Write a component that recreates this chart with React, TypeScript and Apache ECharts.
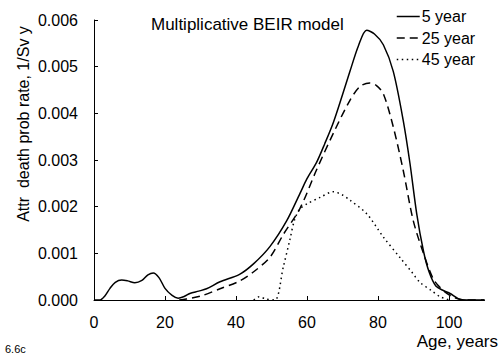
import React, { useEffect, useRef } from "react";
import * as echarts from "echarts";

const FONT = "'Liberation Sans', Arial, Helvetica, sans-serif";

const TITLE = "Multiplicative BEIR model";
const Y_NAME = "Attr  death prob rate, 1/Sv y";
const X_NAME = "Age, years";
const CORNER_NOTE = "6.6c";
const SERIES_NAMES = ["5 year", "25 year", "45 year"];

const AGE_5 = [0, 1.7, 3, 4.5, 6, 7.8, 9.5, 11.5, 13.5, 15.2, 16.7, 18.3, 20, 22, 23.7, 25.5, 27, 29.5, 31.7, 35.5, 41, 45, 49.6, 54.3, 58, 60, 62.7, 65, 67.4, 70, 72.1, 74.5, 76.8, 79, 81.5, 84.3, 87.1, 89, 90.9, 92.8, 94.4, 96.3, 98.5, 100.3, 102.6, 105, 110];
const VAL_5 = [0, 0, 0.00008, 0.00025, 0.00038, 0.00043, 0.00041, 0.00037, 0.00042, 0.00054, 0.00058, 0.00048, 0.00025, 0.0001, 0.00004, 0.00008, 0.00014, 0.00019, 0.00024, 0.00039, 0.00055, 0.00078, 0.00115, 0.0017, 0.00228, 0.0026, 0.00295, 0.00335, 0.0038, 0.0044, 0.0049, 0.00545, 0.00578, 0.0057, 0.00547, 0.0049, 0.00385, 0.00293, 0.00185, 0.00105, 0.0006, 0.0003, 0.0002, 0.00014, 0.00003, 0, 0];

const AGE_25 = [24, 26, 29.9, 35.5, 41.1, 44.9, 49.6, 53.3, 58, 62.7, 67.4, 72.1, 75, 77.7, 79.5, 81.5, 84.3, 87.1, 89.9, 92.8, 95.6, 98.4, 101, 104, 110];
const VAL_25 = [0, 0.00002, 0.00008, 0.00024, 0.00041, 0.0006, 0.00092, 0.0014, 0.00196, 0.00279, 0.00357, 0.00428, 0.00458, 0.00465, 0.0046, 0.00442, 0.00371, 0.00278, 0.00171, 0.001, 0.00045, 0.0002, 0.00007, 0, 0];

const AGE_45 = [45, 46.5, 48.5, 51, 53.3, 55.2, 56.5, 58, 60, 63.7, 67.4, 70, 72.1, 76.8, 81.5, 86.5, 89.5, 91.8, 95.1, 97.5, 100];
const VAL_45 = [0, 0.00007, 0.00002, 0, 0.0007, 0.0013, 0.00172, 0.00195, 0.00206, 0.0022, 0.00232, 0.00225, 0.00214, 0.00185, 0.00135, 0.00088, 0.0006, 0.00038, 0.0002, 0.00007, 0];

const zip = (a: number[], b: number[]) => a.map((x, i) => [x, b[i]]);

export default function App() {
  const ref = useRef<HTMLDivElement>(null);
  useEffect(() => {
    document.body.style.margin = "0";
    const chart = echarts.init(ref.current!, null, { renderer: "svg" });
    const lineBase = (name: string, data: number[][], type: any) => ({
      name,
      type: "line",
      data,
      symbol: "none",
      showSymbol: false,
      smooth: 0.3,
      lineStyle: { color: "#000", width: 1.5, type },
      itemStyle: { color: "#000" },
    });
    chart.setOption({
      animation: false,
      backgroundColor: "#fff",
      textStyle: { fontFamily: FONT },
      title: {
        text: TITLE,
        left: 151,
        top: 16,
        padding: 0,
        textStyle: { fontSize: 17, fontWeight: "normal", color: "#000", fontFamily: FONT },
      },
      legend: {
        data: SERIES_NAMES,
        orient: "vertical",
        left: 396,
        top: 8.5,
        padding: 0,
        itemWidth: 23,
        itemHeight: 16,
        itemGap: 5.5,
        itemStyle: { color: "transparent", borderColor: "transparent", borderWidth: 0, opacity: 0 },
        lineStyle: { width: 1.5 },
        textStyle: { fontSize: 16, color: "#000", lineHeight: 16, fontFamily: FONT, padding: [0, 0, 0, -3] },
      },
      grid: { left: 94, top: 20, right: 17.5, bottom: 56 },
      xAxis: {
        type: "value",
        min: 0,
        max: 110,
        interval: 20,
        axisLine: { show: true, lineStyle: { color: "#000", width: 1 } },
        axisTick: { show: true, inside: true, length: 4, lineStyle: { color: "#000" } },
        axisLabel: { color: "#000", fontSize: 16, margin: 14, fontFamily: FONT, showMaxLabel: false },
        splitLine: { show: false },
      },
      yAxis: {
        type: "value",
        min: 0,
        max: 0.006,
        interval: 0.001,
        axisLine: { show: true, lineStyle: { color: "#000", width: 1 } },
        axisTick: { show: true, inside: true, length: 4, lineStyle: { color: "#000" } },
        axisLabel: {
          color: "#000",
          fontSize: 16,
          margin: 16,
          fontFamily: FONT,
          formatter: (v: number) => v.toFixed(3),
        },
        splitLine: { show: false },
      },
      graphic: [
        {
          type: "text",
          x: 23,
          y: 124,
          rotation: Math.PI / 2,
          style: {
            text: Y_NAME,
            font: `16px ${FONT}`,
            fill: "#000",
            align: "center",
            verticalAlign: "middle",
          },
        },
        {
          type: "text",
          x: 498,
          y: 341.5,
          style: {
            text: X_NAME,
            font: `17px ${FONT}`,
            fill: "#000",
            align: "right",
            verticalAlign: "middle",
          },
        },
        {
          type: "text",
          x: 5,
          y: 349,
          style: {
            text: CORNER_NOTE,
            font: `11px ${FONT}`,
            fill: "#000",
            align: "left",
            verticalAlign: "middle",
          },
        },
      ],
      series: [
        lineBase(SERIES_NAMES[0], zip(AGE_5, VAL_5), "solid"),
        lineBase(SERIES_NAMES[1], zip(AGE_25, VAL_25), [8, 5]),
        lineBase(SERIES_NAMES[2], zip(AGE_45, VAL_45), [1.5, 3.5]),
      ],
    });
    return () => chart.dispose();
  }, []);
  return (
    <div
      ref={ref}
      style={{ width: 502, height: 356, position: "absolute", left: 0, top: 0, background: "#fff" }}
    />
  );
}
